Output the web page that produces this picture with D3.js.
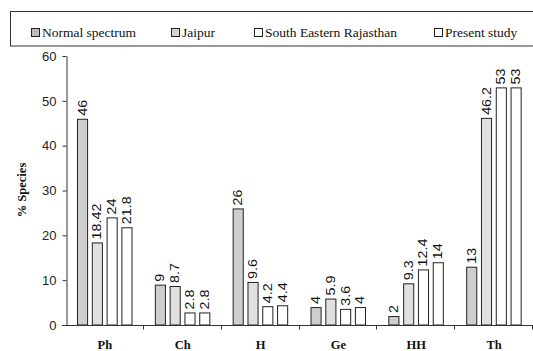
<!DOCTYPE html>
<html><head><meta charset="utf-8">
<script src="https://cdn.jsdelivr.net/npm/d3@7"></script>
<style>body{margin:0;background:#fff}svg{display:block}</style>
</head><body>
<svg id="c" width="533" height="351"></svg>
<script>
const categories = ["Ph","Ch","H","Ge","HH","Th"];
const series = ["Normal spectrum","Jaipur","South Eastern Rajasthan","Present study"];
const normalSpectrum = [46, 9, 26, 4, 2, 13];
const jaipur = [18.42, 8.7, 9.6, 5.9, 9.3, 46.2];
const seRajasthan = [24, 2.8, 4.2, 3.6, 12.4, 53];
const presentStudy = [21.8, 2.8, 4.4, 4, 14, 53];
const yTicks = [0,10,20,30,40,50,60];
const values = [normalSpectrum, jaipur, seRajasthan, presentStudy];
const fills = ["#cecece","#e0e0e0","#ffffff","#ffffff"];
const swatchFills = ["#bcbcbc","#d2d2d2","#ffffff","#ffffff"];
const legendX = [31, 171, 254, 434];
const SERIF = "'Liberation Serif','Times New Roman',Times,serif";
const SANS = "'Liberation Sans',Arial,Helvetica,sans-serif";

const svg = d3.select("#c");
const y = d3.scaleLinear().domain([0,60]).range([325,56]);
const x0 = d3.scaleBand().domain(categories).range([66,533]).padding(0);
const x1 = d3.scaleBand().domain(series).range([11,66.5]).paddingInner(0.25).paddingOuter(0);

// legend box
svg.append("rect").attr("x",10.5).attr("y",11.5).attr("width",540).attr("height",34.5)
  .attr("fill","none").attr("stroke","#333").attr("stroke-width",1);
series.forEach((s,i)=>{
  svg.append("rect").attr("x",legendX[i]+0.5).attr("y",28.5).attr("width",8).attr("height",8)
    .attr("fill",swatchFills[i]).attr("stroke","#222").attr("stroke-width",1);
  svg.append("text").attr("x",legendX[i]+11).attr("y",37)
    .style("font-family",SERIF).attr("font-size",13.5)
    .attr("fill","#111").text(s);
});

// bars
const g = svg.append("g");
categories.forEach((c,ci)=>{
  series.forEach((s,si)=>{
    const v = values[si][ci];
    const bx = x0(c)+x1(s);
    g.append("rect").attr("x",bx+0.5).attr("y",y(v)+0.5)
      .attr("width",x1.bandwidth()-1).attr("height",y(0)-y(v)-0.5)
      .attr("fill",fills[si]).attr("stroke","#222").attr("stroke-width",1);
    const cx = bx + x1.bandwidth()/2 + 4;
    g.append("text").attr("transform",`translate(${cx},${y(v)-3}) rotate(-90) scale(1.15,1)`)
      .style("font-family",SANS).attr("font-size",12.5)
      .attr("fill","#111").text(String(v));
  });
});

// y axis
const yAxis = d3.axisLeft(y).tickValues(yTicks).tickSize(4).tickSizeOuter(0);
const ya = svg.append("g").attr("transform","translate(66.5,0)").call(yAxis);
ya.select(".domain").attr("stroke","#333");
ya.selectAll(".tick line").attr("stroke","#333");
ya.selectAll(".tick text").style("font-family",SANS)
  .attr("font-size",13).attr("fill","#222").attr("dx","-3");

// x axis
const xa = svg.append("g").attr("transform","translate(0,325.5)");
xa.append("line").attr("x1",62).attr("x2",533).attr("y1",0).attr("y2",0).attr("stroke","#333");
categories.forEach(c=>{
  const xr = x0(c)+x0.bandwidth();
  xa.append("line").attr("x1",Math.round(xr)-0.5).attr("x2",Math.round(xr)-0.5).attr("y1",0).attr("y2",4).attr("stroke","#333");
  xa.append("text").attr("x",x0(c)+x0.bandwidth()/2).attr("y",23).attr("text-anchor","middle")
    .style("font-family",SERIF).attr("font-weight","bold")
    .attr("font-size",12.5).attr("fill","#111").text(c);
});

svg.append("text").attr("transform","translate(26,190) rotate(-90)").attr("text-anchor","middle")
  .style("font-family",SERIF).attr("font-weight","bold")
  .attr("font-size",12.5).attr("fill","#111").text("% Species");
</script>
</body></html>
